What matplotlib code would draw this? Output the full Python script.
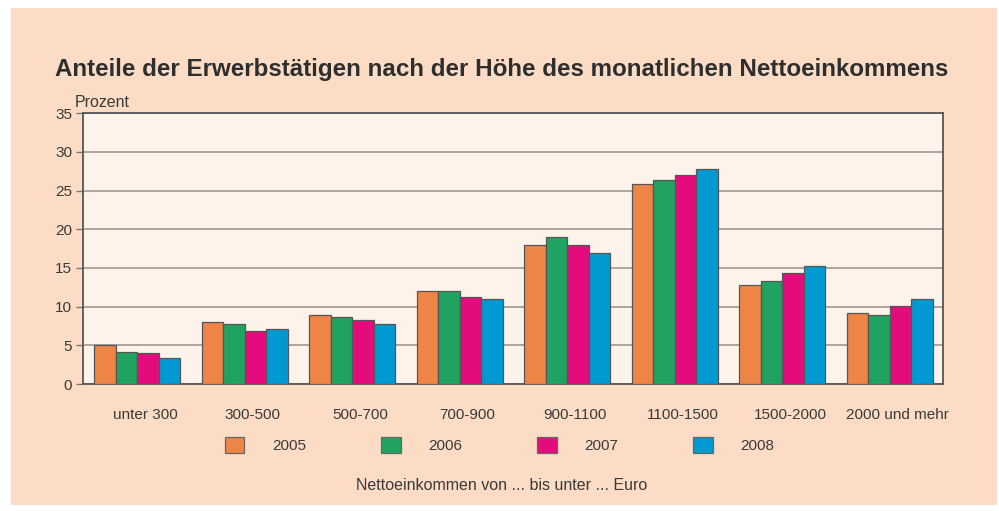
import numpy as np
import matplotlib.pyplot as plt
import matplotlib.transforms as mtransforms
from matplotlib.patches import Rectangle, Patch

plt.rcParams['font.family'] = ['Liberation Sans', 'DejaVu Sans']

# Data
categories = ['unter 300', '300-500', '500-700', '700-900', '900-1100',
              '1100-1500', '1500-2000', '2000 und mehr']
years = ['2005', '2006', '2007', '2008']
v2005 = [5.1, 8.0, 8.9, 12.0, 18.0, 25.8, 12.8, 9.2]
v2006 = [4.2, 7.8, 8.7, 12.0, 19.0, 26.4, 13.3, 8.9]
v2007 = [4.0, 6.8, 8.3, 11.2, 18.0, 27.0, 14.4, 10.1]
v2008 = [3.4, 7.1, 7.8, 11.0, 17.0, 27.8, 15.2, 11.0]
series = [v2005, v2006, v2007, v2008]
colors = ['#EF8447', '#20A360', '#E40C7C', '#0099D1']

BG = '#FCDCC5'
PANEL = '#FEF3EA'
DARK = '#3A3A3A'

fig = plt.figure(figsize=(9.99, 5.11), dpi=100, facecolor='white')
fig.patches.append(Rectangle((11 / 999, 1 - 505 / 511), 986 / 999, 497 / 511,
                             transform=fig.transFigure, facecolor=BG,
                             edgecolor='none', zorder=-10))

ax = fig.add_axes([0.0834, 0.2485, 0.861, 0.5298])
ax.set_facecolor(PANEL)

x = np.arange(len(categories))
w = 0.2
for i, (vals, c) in enumerate(zip(series, colors)):
    ax.bar(x - 0.3 + i * w, vals, width=w, color=c, edgecolor='#555555',
           linewidth=0.9, zorder=3, label=years[i])

ax.set_xlim(-0.5, len(categories) - 0.5)
ax.set_ylim(0, 35)
ax.set_yticks(range(0, 36, 5))
ax.yaxis.grid(True, color='#A89E96', linewidth=1.3, zorder=0)
ax.set_axisbelow(True)
for s in ax.spines.values():
    s.set_color('#555555')
    s.set_linewidth(1.3)
ax.tick_params(axis='y', length=5, width=1, color='#777777', labelsize=11,
               labelcolor=DARK, pad=3)
ax.set_xticks(x)
ax.set_xticklabels(categories)
ax.tick_params(axis='x', length=0, labelsize=11, labelcolor=DARK, pad=17)
offset = mtransforms.ScaledTranslation(8 / 100, 0, fig.dpi_scale_trans)
for lbl in ax.get_xticklabels():
    lbl.set_transform(lbl.get_transform() + offset)

fig.text(75 / 999, 1 - 107 / 511, 'Prozent', fontsize=11.5, color=DARK,
         va='baseline', ha='left')
fig.text(55 / 999, 1 - 76 / 511,
         'Anteile der Erwerbstätigen nach der Höhe des monatlichen Nettoeinkommens',
         fontsize=17.4, fontweight='bold', color='#2E2E2E', va='baseline', ha='left')

handles = [Patch(facecolor=c, edgecolor='#666666', linewidth=0.9) for c in colors]
fig.legend(handles, years, loc='center', bbox_to_anchor=(0.5, 1 - 445 / 511),
           ncol=4, frameon=False, fontsize=11, handlelength=1.3, handleheight=1.3,
           handletextpad=1.8, columnspacing=4.9, labelcolor=DARK)

fig.text(0.502, 1 - 485 / 511, 'Nettoeinkommen von ... bis unter ... Euro',
         fontsize=11.5, color=DARK, ha='center', va='center')

fig.savefig('out.png', dpi=100, facecolor='white')
